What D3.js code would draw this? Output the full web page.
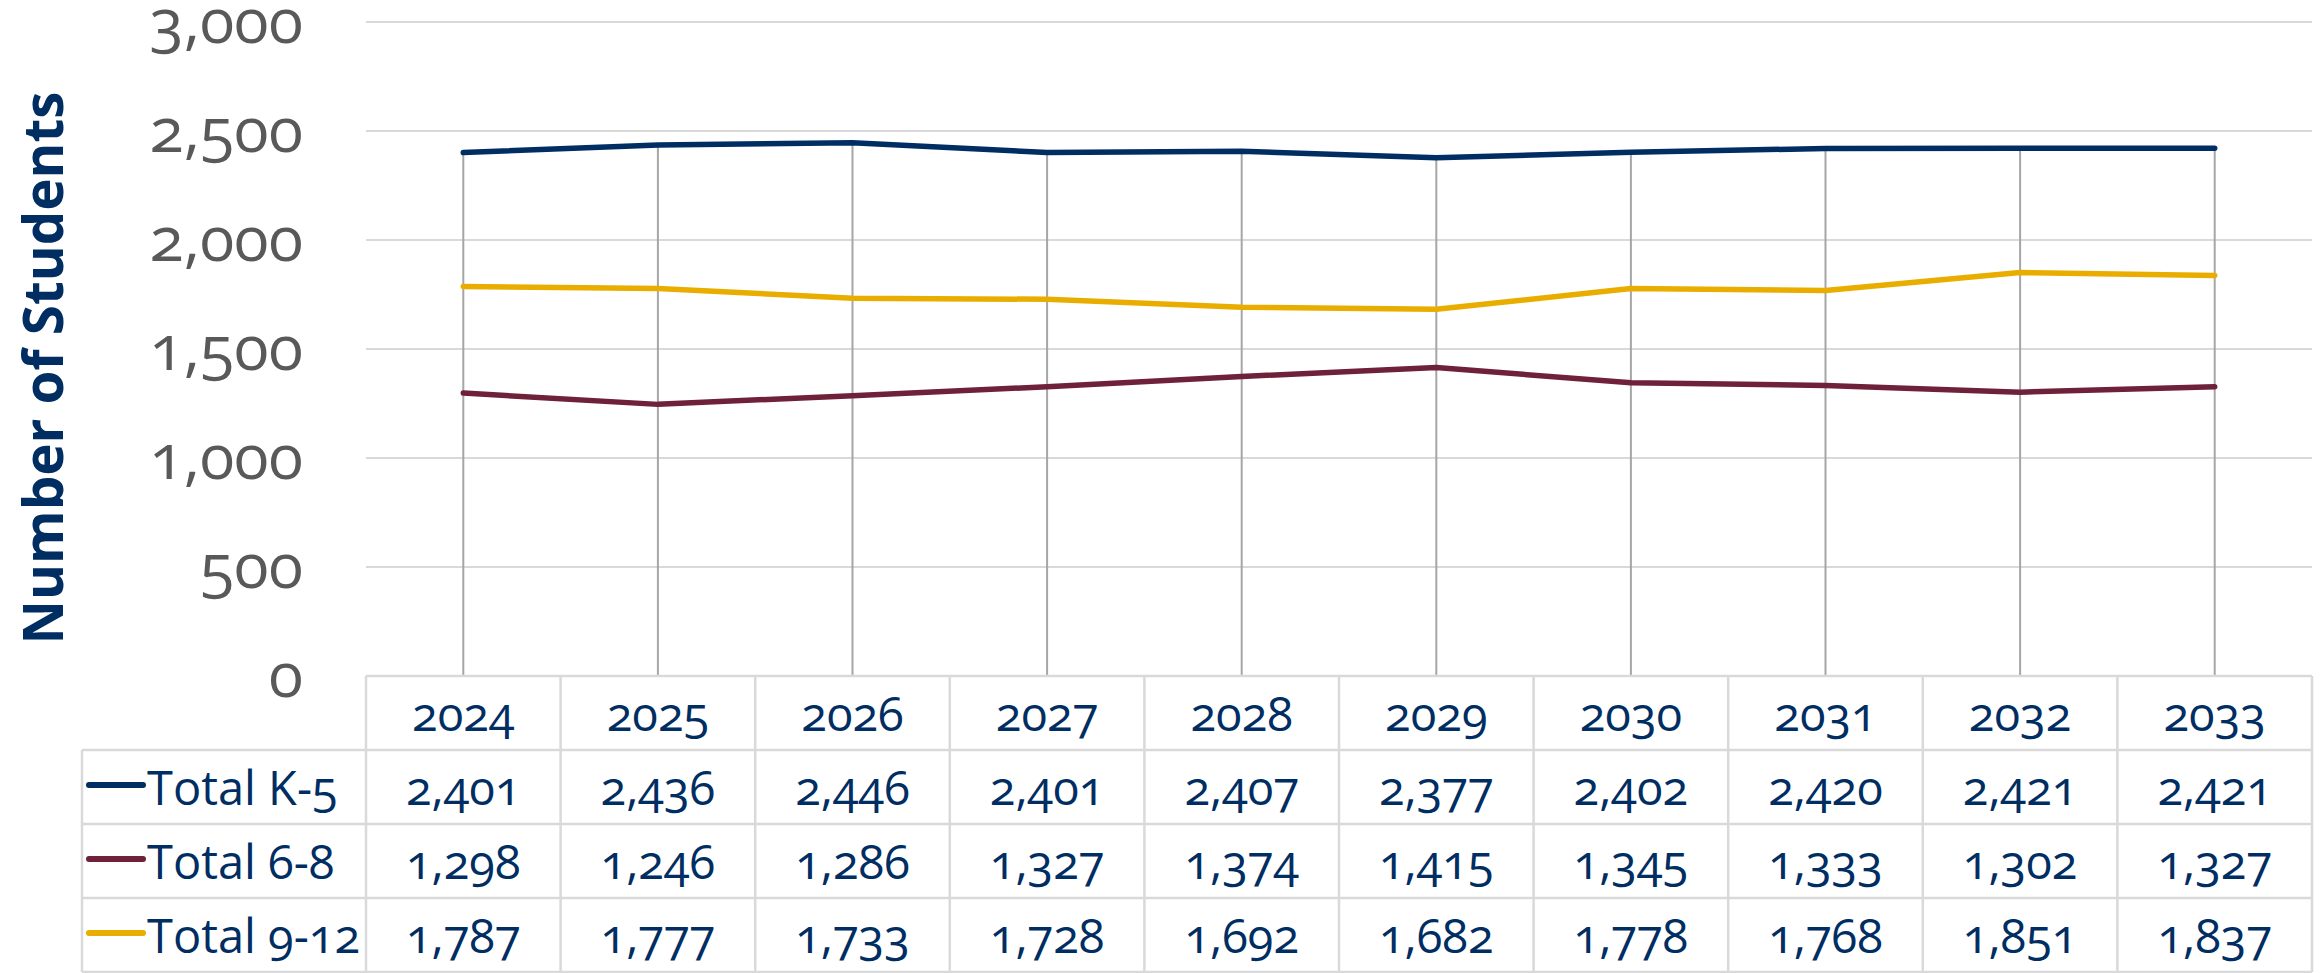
<!DOCTYPE html>
<html><head><meta charset="utf-8">
<script src="https://cdn.jsdelivr.net/npm/d3@7"></script>
<style>
body{margin:0;background:#fff;}
text{font-family:"Open Sans",sans-serif;font-variant-numeric:oldstyle-nums;font-feature-settings:"onum" 1;}
</style>
</head><body>
<svg id="chart" width="2323" height="973"></svg>
<script>
const years = ["2024","2025","2026","2027","2028","2029","2030","2031","2032","2033"];
const seriesNames = ["Total K-5","Total 6-8","Total 9-12"];
const totalK5  = [2401,2436,2446,2401,2407,2377,2402,2420,2421,2421];
const total68  = [1298,1246,1286,1327,1374,1415,1345,1333,1302,1327];
const total912 = [1787,1777,1733,1728,1692,1682,1778,1768,1851,1837];
const yTicks = [0,500,1000,1500,2000,2500,3000];
const yTitle = "Number of Students";

const seriesValues = [totalK5, total68, total912];
const colors = ["#002D62","#6E2139","#E9AD00"];
const navy = "#002D62";

const svg = d3.select("#chart");
const L = 366, R = 2312, T = 22, B = 676, tableBottom = 972, legendLeft = 82;

const x = d3.scaleBand().domain(years).range([L, R]);
const y = d3.scaleLinear().domain([0, 3000]).range([B, T]);
const rowScale = d3.scaleBand().domain(["header", ...seriesNames]).range([B, tableBottom]);
const fmt = d3.format(",");
const cx = d => x(d) + x.bandwidth() / 2;

// gridlines
svg.append("g").selectAll("line").data(yTicks.filter(t => t > 0)).join("line")
  .attr("x1", L).attr("x2", R).attr("y1", d => y(d)).attr("y2", d => y(d))
  .attr("stroke", "#D9D9D9").attr("stroke-width", 2);

// y labels
const yAxis = d3.axisLeft(y).tickValues(yTicks).tickFormat(fmt).tickSize(0).tickPadding(0);
const gy = svg.append("g").attr("transform", "translate(303,0)").call(yAxis);
gy.select(".domain").remove();
gy.selectAll("text").attr("fill", "#595959").attr("font-size", 63)
  .style("font-family", '"Open Sans",sans-serif');

// drop lines
svg.append("g").selectAll("line").data(years).join("line")
  .attr("x1", d => cx(d)).attr("x2", d => cx(d))
  .attr("y1", (d, i) => y(d3.max(seriesValues, s => s[i])))
  .attr("y2", B)
  .attr("stroke", "#A6A6A6").attr("stroke-width", 2);

// series lines
const line = d3.line().x((d, i) => cx(years[i])).y(d => y(d));
svg.append("g").selectAll("path").data(seriesValues).join("path")
  .attr("d", d => line(d)).attr("fill", "none")
  .attr("stroke", (d, i) => colors[i]).attr("stroke-width", 5.5)
  .attr("stroke-linejoin", "round").attr("stroke-linecap", "round");

// y title
const yt = svg.append("text").attr("transform", "translate(42,368) rotate(-90)")
  .attr("text-anchor", "middle").attr("dominant-baseline", "central")
  .attr("font-weight", "bold").attr("fill", navy).attr("font-size", 51)
  .text(yTitle);
{ const w = yt.node().getComputedTextLength(); yt.attr("font-size", 51 * 553 / w); }

// table borders
const tg = svg.append("g").attr("stroke", "#D9D9D9").attr("stroke-width", 2.5);
tg.append("line").attr("x1", L).attr("x2", R).attr("y1", B).attr("y2", B);
seriesNames.forEach(n => {
  tg.append("line").attr("x1", legendLeft).attr("x2", R)
    .attr("y1", rowScale(n)).attr("y2", rowScale(n));
});
tg.append("line").attr("x1", legendLeft).attr("x2", R).attr("y1", tableBottom).attr("y2", tableBottom);
tg.append("line").attr("x1", legendLeft).attr("x2", legendLeft).attr("y1", rowScale(seriesNames[0])).attr("y2", tableBottom);
[...years.map(d => x(d)), R].forEach(px => {
  tg.append("line").attr("x1", px).attr("x2", px).attr("y1", B).attr("y2", tableBottom);
});

// header years
svg.append("g").selectAll("text").data(years).join("text")
  .attr("x", d => cx(d)).attr("y", rowScale("header") + rowScale.bandwidth() / 2)
  .attr("text-anchor", "middle").attr("dominant-baseline", "central")
  .attr("fill", navy).attr("font-size", 47).text(d => d);

// values
seriesNames.forEach((n, si) => {
  const ry = rowScale(n) + rowScale.bandwidth() / 2;
  svg.append("g").selectAll("text").data(seriesValues[si]).join("text")
    .attr("x", (d, i) => cx(years[i])).attr("y", ry)
    .attr("text-anchor", "middle").attr("dominant-baseline", "central")
    .attr("fill", navy).attr("font-size", 47).text(d => fmt(d));
  svg.append("line").attr("x1", 89).attr("x2", 143).attr("y1", ry - 2).attr("y2", ry - 2)
    .attr("stroke", colors[si]).attr("stroke-width", 6).attr("stroke-linecap", "round");
  svg.append("text").attr("x", 147).attr("y", ry)
    .attr("dominant-baseline", "central").attr("fill", navy).attr("font-size", 47).text(n);
});
</script>
</body></html>
